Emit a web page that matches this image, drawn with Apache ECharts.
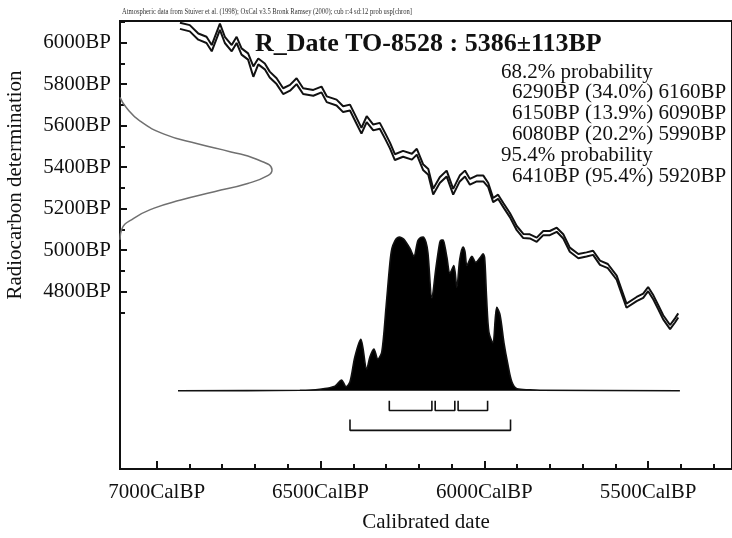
<!DOCTYPE html>
<html lang="en">
<head>
<meta charset="UTF-8">
<title>R_Date TO-8528 calibration</title>
<style>
  html, body { margin: 0; padding: 0; background: #fff; }
  #chart { width: 732px; height: 538px; }
</style>
</head>
<body>
<div id="chart"></div>
<script src="https://cdn.jsdelivr.net/npm/echarts@6/dist/echarts.min.js"></script>
<script>
// calibration curve (cal BP, radiocarbon BP mid line, half width of the band)
var curveCal = [6929,6899,6873,6848,6832,6807,6792,6771,6756,6741,6721,6705,6690,6670,6655,6634,6614,6593,6573,6553,
  6522,6497,6481,6451,6431,6410,6390,6375,6359,6339,6319,6303,6288,6273,6248,6221,6206,6187,6171,6156,
  6136,6115,6095,6075,6059,6044,6023,6003,5988,5973,5958,5942,5922,5901,5881,5861,5840,5820,5800,5779,
  5759,5739,5713,5688,5668,5647,5623,5596,5566,5535,5515,5500,5484,5469,5454,5433,5418,5408];
var curveBP = [6081,6069,6029,6013,5973,6076,6013,5973,6013,5957,5933,5860,5909,5885,5846,5814,5766,5782,5814,5766,
  5758,5774,5727,5711,5679,5687,5623,5575,5631,5591,5599,5551,5504,5448,5464,5450,5474,5400,5377,5282,
  5337,5369,5281,5345,5369,5329,5345,5345,5313,5241,5257,5217,5169,5106,5068,5066,5050,5082,5082,5098,
  5066,5002,4971,4979,4987,4939,4923,4867,4732,4764,4780,4812,4772,4724,4676,4629,4661,4685];
var curveErr = [15,15,15,15,15,15,15,15,15,15,15,25,14,14,14,14,14,14,14,14,
  14,14,14,14,14,14,14,14,14,14,14,14,14,14,14,14,14,14,14,14,
  14,14,14,14,14,14,14,14,10,10,10,10,10,10,10,10,10,10,10,10,
  10,10,10,10,10,10,10,10,10,10,10,10,10,10,10,10,10,10];

// calibrated probability (relative)
var probCal = [6935,6563,6502,6456,6436,6422,6410,6395,6377,6359,6349,6337,6325,6313,6300,6288,6282,6273,6265,6258,
  6249,6242,6227,6215,6203,6195,6187,6178,6172,6160,6148,6136,6131,6126,6120,6114,6105,6093,6084,6075,
  6065,6059,6053,6038,6026,6013,6004,5999,5993,5986,5974,5962,5952,5940,5928,5916,5900,5861,5830,5403];
var probVal = [0,0.003,0.01,0.03,0.07,0.026,0.058,0.22,0.333,0.14,0.22,0.27,0.205,0.25,0.54,0.83,0.92,0.97,0.99,0.994,
  0.985,0.97,0.92,0.87,0.97,0.99,0.994,0.96,0.89,0.60,0.79,0.96,0.975,0.975,0.93,0.86,0.76,0.81,0.67,0.85,
  0.93,0.9,0.81,0.87,0.83,0.86,0.885,0.86,0.6,0.38,0.31,0.54,0.49,0.31,0.17,0.058,0.013,0.006,0.003,0];

// radiocarbon measurement 5386 +/- 113 BP
var gaussBP = [5736,5688,5623,5559,5512,5473,5440,5386,5360,5321,5281,5241,5201,5153,5098,5050];
var gaussDensity = [0,0.04,0.13,0.29,0.51,0.73,0.89,1,0.975,0.84,0.62,0.40,0.22,0.09,0.01,0];

// ranges
var ranges68 = [[6290, 6160], [6150, 6090], [6080, 5990]];
var pct68 = ['34.0', '13.9', '20.2'];
var ranges95 = [[6410, 5920]];
var pct95 = ['95.4'];

// axes
var calMajor = [7000, 6500, 6000, 5500];
var calMinor = [7000,6900,6800,6700,6600,6500,6400,6300,6200,6100,6000,5900,5800,5700,5600,5500,5400,5300];
var bpMajor = [4800, 5000, 5200, 5400, 5600, 5800, 6000];
var bpMinor = [4700, 4900, 5100, 5300, 5500, 5700, 5900, 6100];

var titleText = 'R_Date TO-8528 : 5386\u00b1113BP';
var captionText = 'Atmospheric data from Stuiver et al. (1998); OxCal v3.5 Bronk Ramsey (2000); cub r:4 sd:12 prob usp[chron]';

var FONT = '"Liberation Serif", "Times New Roman", serif';
var INK = '#111';

var chart = echarts.init(document.getElementById('chart'));

function bracket(r, top, base) {
  return {
    type: 'line', xAxisIndex: 0, yAxisIndex: 2, showSymbol: false, silent: true,
    lineStyle: { color: INK, width: 1.6 },
    data: [[r[0], top], [r[0], base], [r[1], base], [r[1], top]]
  };
}

var series = [
  {
    type: 'line', xAxisIndex: 2, yAxisIndex: 0, smooth: true, showSymbol: false,
    lineStyle: { color: '#707070', width: 1.5 },
    data: gaussBP.map(function (bp, i) { return [gaussDensity[i], bp]; })
  },
  {
    type: 'line', xAxisIndex: 0, yAxisIndex: 0, showSymbol: false,
    lineStyle: { color: INK, width: 2 },
    data: curveCal.map(function (c, i) { return [c, curveBP[i] + curveErr[i]]; })
  },
  {
    type: 'line', xAxisIndex: 0, yAxisIndex: 0, showSymbol: false,
    lineStyle: { color: INK, width: 2 },
    data: curveCal.map(function (c, i) { return [c, curveBP[i] - curveErr[i]]; })
  },
  {
    type: 'line', xAxisIndex: 0, yAxisIndex: 2, showSymbol: false, smooth: 0.3,
    lineStyle: { color: INK, width: 1.6 },
    areaStyle: { color: '#000', opacity: 1 },
    data: probCal.map(function (c, i) { return [c, probVal[i]]; })
  }
];
ranges68.forEach(function (r) { series.push(bracket(r, -0.064, -0.128)); });
ranges95.forEach(function (r) { series.push(bracket(r, -0.186, -0.256)); });

// text block
var lines = [];
lines.push({ text: '68.2% probability', indent: false });
ranges68.forEach(function (r, i) { lines.push({ text: r[0] + 'BP (' + pct68[i] + '%) ' + r[1] + 'BP', indent: true }); });
lines.push({ text: '95.4% probability', indent: false });
ranges95.forEach(function (r, i) { lines.push({ text: r[0] + 'BP (' + pct95[i] + '%) ' + r[1] + 'BP', indent: true }); });

var graphic = [
  { type: 'text', x: 122, y: 12, scaleX: 0.82, style: { text: captionText, font: '8px ' + FONT, fill: '#333', verticalAlign: 'middle' } },
  { type: 'text', x: 255, y: 44, style: { text: titleText, font: 'bold 26px ' + FONT, fill: INK, verticalAlign: 'middle' } },
  { type: 'text', x: 15, y: 185, rotation: Math.PI / 2,
    style: { text: 'Radiocarbon determination', font: '21px ' + FONT, fill: INK, align: 'center', verticalAlign: 'middle' } }
];
lines.forEach(function (l, i) {
  graphic.push({ type: 'text', x: l.indent ? 512 : 501, y: 72 + 20.85 * i,
    style: { text: l.text, font: '21px ' + FONT, fill: INK, verticalAlign: 'middle' } });
});

var labelStyle = { color: INK, fontFamily: FONT, fontSize: 21 };

var option = {
  animation: false,
  backgroundColor: '#fff',
  grid: { left: 120, right: -6, top: 21, bottom: 65, show: true, borderColor: INK, borderWidth: 2 },
  xAxis: [
    {
      type: 'value', min: 5244, max: 7112, inverse: true, position: 'bottom',
      axisLine: { show: false, onZero: false }, splitLine: { show: false },
      axisTick: { inside: true, length: 8, customValues: calMajor, lineStyle: { color: INK, width: 2 } },
      axisLabel: Object.assign({ customValues: calMajor, margin: 13, formatter: function (v) { return v + 'CalBP'; } }, labelStyle),
      name: 'Calibrated date', nameLocation: 'middle', nameGap: 43,
      nameTextStyle: labelStyle
    },
    {
      type: 'value', min: 5244, max: 7112, inverse: true, position: 'bottom',
      axisLine: { show: false, onZero: false }, splitLine: { show: false }, axisLabel: { show: false },
      axisTick: { inside: true, length: 5, customValues: calMinor, lineStyle: { color: INK, width: 2 } }
    },
    { type: 'value', min: 0, max: 4.026, show: false, axisLine: { onZero: false } }
  ],
  yAxis: [
    {
      type: 'value', min: 3945, max: 6104, position: 'left',
      axisLine: { show: false, onZero: false }, splitLine: { show: false },
      axisTick: { inside: true, length: 7, customValues: bpMajor, lineStyle: { color: INK, width: 2 } },
      axisLabel: Object.assign({ customValues: bpMajor, margin: 9, formatter: function (v) { return v + 'BP'; } }, labelStyle)
    },
    {
      type: 'value', min: 3945, max: 6104, position: 'left',
      axisLine: { show: false, onZero: false }, splitLine: { show: false }, axisLabel: { show: false },
      axisTick: { inside: true, length: 5, customValues: bpMinor, lineStyle: { color: INK, width: 2 } }
    },
    { type: 'value', min: -0.506, max: 2.391, show: false, axisLine: { onZero: false } }
  ],
  graphic: graphic,
  series: series
};

chart.setOption(option);
</script>
</body>
</html>
